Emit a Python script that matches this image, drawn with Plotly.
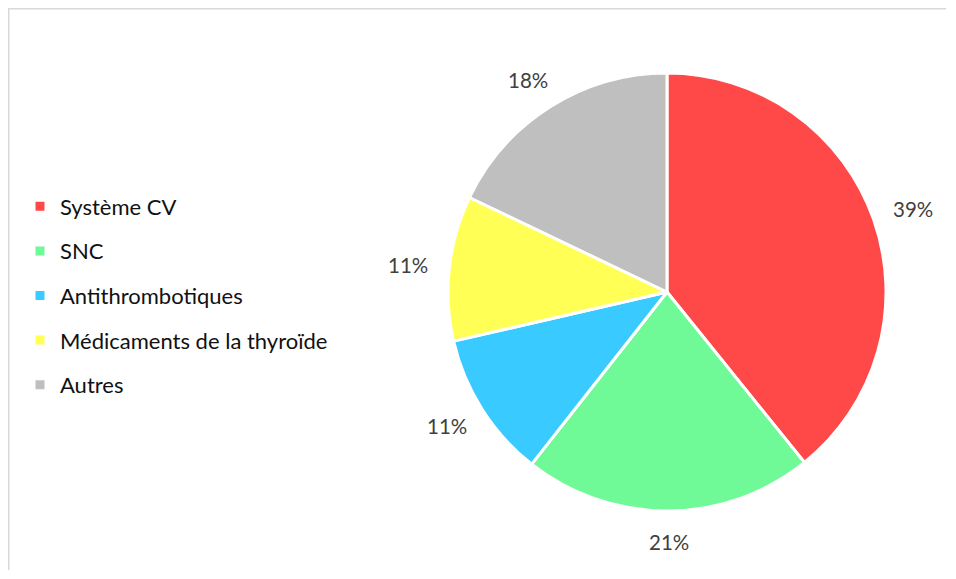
import math
import plotly.graph_objects as go

categories = ["Système CV", "SNC", "Antithrombotiques", "Médicaments de la thyroïde", "Autres"]
values = [39.2, 21.4, 10.8, 10.7, 17.9]
colors = ["#FF4848", "#6FFA97", "#39CBFF", "#FFFF55", "#BFBFBF"]

# the page adds an 8px body margin; positions below are given in page pixels
OFF = 8
W, H = 938, 562
CX, CY, R = 667, 292, 219  # pie geometry in page pixels
FONT = "Lato, 'Open Sans', sans-serif"


def px(x):
    return (x - OFF) / W


def py(y):
    return 1 - (y - OFF) / H


fig = go.Figure()

fig.add_trace(go.Pie(
    labels=categories,
    values=values,
    marker=dict(colors=colors, line=dict(color="white", width=3)),
    sort=False,
    direction="clockwise",
    rotation=0,
    textinfo="none",
    hoverinfo="label+percent",
    showlegend=False,
    domain=dict(x=[px(CX - R), px(CX + R)], y=[py(CY + R), py(CY - R)]),
))

# legend entries via dummy traces (allows Excel-like spacing)
for i, (cat, col) in enumerate(zip(categories, colors)):
    fig.add_trace(go.Scatter(
        x=[None], y=[None], mode="markers", name=cat,
        marker=dict(symbol="square", size=9, color=col),
        legendgroup=f"g{i}", showlegend=True,
    ))

# percent labels placed outside the slices
total = sum(values)
cum = 0
annotations = []
gap, hw, hh = 21, 21, 10
for v in values:
    mid = (cum + v / 2) / total * 2 * math.pi
    cum += v
    dx, dy = math.sin(mid), -math.cos(mid)
    lx = CX + (R + gap) * dx + hw * dx
    ly = CY + (R + gap) * dy + hh * dy
    annotations.append(dict(
        x=px(lx), y=py(ly), xref="paper", yref="paper",
        text=f"{round(v / total * 100)}%", showarrow=False,
        xanchor="center", yanchor="middle",
        font=dict(family=FONT, size=20.5, color="#404040"),
    ))

fig.update_layout(
    width=W, height=H,
    margin=dict(l=0, r=0, t=0, b=0),
    paper_bgcolor="white", plot_bgcolor="white",
    xaxis=dict(visible=False), yaxis=dict(visible=False),
    annotations=annotations,
    legend=dict(
        x=px(20), y=py(185.5), xanchor="left", yanchor="top",
        font=dict(family=FONT, size=22, color="#111111"),
        traceorder="grouped", tracegroupgap=13,
        itemclick=False, itemdoubleclick=False,
    ),
    shapes=[
        dict(type="line", xref="paper", yref="paper", x0=0, x1=1, y0=py(8.5), y1=py(8.5),
             line=dict(color="#D9D9D9", width=2)),
        dict(type="line", xref="paper", yref="paper", x0=px(8.5), x1=px(8.5), y0=1, y1=0,
             line=dict(color="#D9D9D9", width=2)),
    ],
)

fig.write_html("out.html")
